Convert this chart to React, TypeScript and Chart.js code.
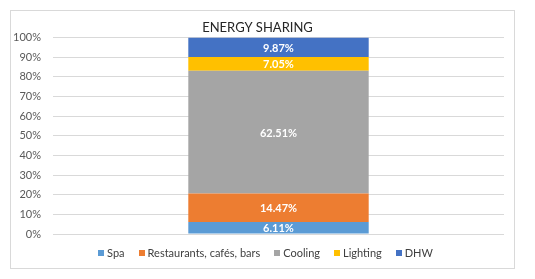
import React, { useEffect, useRef } from "react";
import { Chart, registerables } from "chart.js";

Chart.register(...registerables);

const categories = [""];
const seriesNames = ["Spa", "Restaurants, cafés, bars", "Cooling", "Lighting", "DHW"];
const seriesValues = [[6.11], [14.47], [62.51], [7.05], [9.87]];
const seriesColors = ["#5B9BD5", "#ED7D31", "#A5A5A5", "#FFC000", "#4472C4"];
const yTicks = [0, 10, 20, 30, 40, 50, 60, 70, 80, 90, 100];

const FONT = "Lato, 'Open Sans', sans-serif";

const labelPlugin = {
  id: "barLabels",
  afterDatasetsDraw(chart: any) {
    const ctx = chart.ctx;
    ctx.save();
    ctx.font = `bold 11px ${FONT}`;
    ctx.fillStyle = "#ffffff";
    ctx.textAlign = "center";
    ctx.textBaseline = "middle";
    chart.data.datasets.forEach((ds: any, i: number) => {
      const meta = chart.getDatasetMeta(i);
      meta.data.forEach((bar: any, j: number) => {
        const v = ds.data[j];
        const { x, y, base } = bar.getProps(["x", "y", "base"], true);
        ctx.fillText(v.toFixed(2) + "%", x, (y + base) / 2 + 1);
      });
    });
    ctx.restore();
  },
};

const legendPlugin = {
  id: "customLegend",
  afterDraw(chart: any) {
    const ctx = chart.ctx;
    ctx.save();
    ctx.font = `11px ${FONT}`;
    ctx.textBaseline = "middle";
    ctx.textAlign = "left";
    const box = 6;
    const boxGap = 3;
    const itemGap = 14;
    const items = chart.data.datasets.map((ds: any) => ({
      label: ds.label,
      color: ds.backgroundColor,
      w: box + boxGap + ctx.measureText(ds.label).width,
    }));
    const total = items.reduce((s: number, it: any) => s + it.w, 0) + itemGap * (items.length - 1);
    let x = chart.width / 2 + 3 - total / 2;
    const y = chart.chartArea.bottom + 19;
    items.forEach((it: any) => {
      ctx.fillStyle = it.color;
      ctx.fillRect(Math.round(x), Math.round(y - box / 2), box, box);
      ctx.fillStyle = "#404040";
      ctx.fillText(it.label, x + box + boxGap, y + 0.5);
      x += it.w + itemGap;
    });
    ctx.restore();
  },
};

export default function App() {
  const ref = useRef<HTMLCanvasElement | null>(null);
  useEffect(() => {
    if (!ref.current) return;
    const chart = new Chart(ref.current, {
      type: "bar",
      data: {
        labels: categories,
        datasets: seriesNames.map((name, i) => ({
          label: name,
          data: seriesValues[i],
          backgroundColor: seriesColors[i],
          borderWidth: 0,
          barPercentage: 1,
          categoryPercentage: 0.4,
        })),
      },
      options: {
        animation: false,
        responsive: false,
        maintainAspectRatio: false,
        layout: { padding: { left: 0, right: 10, top: 0, bottom: 34 } },
        plugins: {
          title: {
            display: true,
            text: "ENERGY SHARING",
            color: "#262626",
            font: { family: FONT, size: 13, weight: "normal" },
            padding: { top: 9, bottom: 2 },
          },
          legend: { display: false },
          tooltip: { enabled: false },
        },
        scales: {
          x: {
            stacked: true,
            display: false,
          },
          y: {
            stacked: true,
            min: 0,
            max: 100,
            afterBuildTicks: (scale: any) => {
              scale.ticks = yTicks.map((v) => ({ value: v }));
            },
            afterFit: (scale: any) => {
              scale.width = 42;
            },
            ticks: {
              callback: (v: any) => v + "%",
              color: "#595959",
              font: { family: FONT, size: 11 },
              padding: 12,
            },
            grid: { color: "#d9d9d9", drawTicks: false },
            border: { display: false },
          },
        },
      },
      plugins: [labelPlugin, legendPlugin],
    });
    return () => chart.destroy();
  }, []);
  return (
    <div
      style={{
        position: "absolute",
        left: 10,
        top: 10,
        width: 505,
        height: 259,
        border: "1px solid #d9d9d9",
        boxSizing: "border-box",
        background: "#fff",
      }}
    >
      <canvas ref={ref} width={503} height={257} style={{ display: "block" }} />
    </div>
  );
}
